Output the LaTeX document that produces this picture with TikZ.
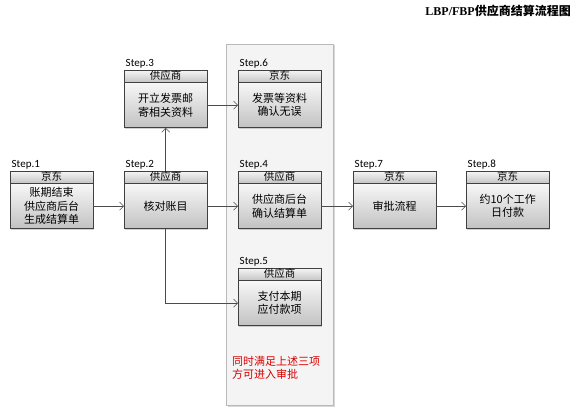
\documentclass[tikz,border=0pt]{standalone}
\usepackage{fontspec}
\setmainfont{Noto Sans CJK SC}
\newfontfamily\stepfont{Carlito}
\newfontfamily\titlefont{Liberation Serif}
\usetikzlibrary{positioning,shadows,arrows.meta}

\tikzset{
  head/.style={draw=black!75, top color=gray!8, bottom color=gray!45, anchor=north west,
    minimum width=83pt, minimum height=12pt, inner sep=0pt, text height=8pt, text depth=2pt,
    font=\fontsize{10.5}{11}\selectfont},
  body/.style={draw=black!75, top color=gray!6, bottom color=gray!48, align=center,
    minimum width=83pt, minimum height=45pt, inner sep=0pt,
    font=\fontsize{11}{13.4}\selectfont, drop shadow={shadow xshift=1.2pt, shadow yshift=-1.2pt, opacity=.35}},
  steplabel/.style={anchor=south west, inner sep=0pt, font=\stepfont\fontsize{11}{12}\selectfont},
  arr/.style={-{Straight Barb[length=4pt, width=8pt]}, draw=black!70, line width=0.6pt},
  panel/.style={draw=gray!55, fill=gray!9, drop shadow={shadow xshift=1.5pt, shadow yshift=-1.5pt, opacity=.3}}
}

\begin{document}
\begin{tikzpicture}[x=1pt, y=-1pt]
  \useasboundingbox (0,0) rectangle (578,414);
  \fill[white] (0,0) rectangle (578,414);

  \node[anchor=north east, inner sep=0pt, font=\fontsize{12}{13}\selectfont\bfseries] (title) at (571,5)
    {{\titlefont\bfseries LBP/FBP}供应商结算流程图};

  % the three checks box
  \draw[panel] (226,44) rectangle (333,405);

  \foreach \n/\x/\y/\who/\txt in {
      1/10/171/京东/{账期结束\\供应商后台\\生成结算单},
      2/124/171/供应商/{核对账目},
      3/124/70/供应商/{开立发票邮\\寄相关资料},
      6/238/70/京东/{发票等资料\\确认无误},
      4/238/171/供应商/{供应商后台\\确认结算单},
      5/238/268/供应商/{支付本期\\应付款项},
      7/353/171/京东/{审批流程},
      8/466/171/京东/{约10个工作\\日付款}}{
    \node[head] (h\n) at (\x,\y) {\who};
    \node[body, below=0pt of h\n] (s\n) {\txt};
    \node[steplabel] (l\n) at ([xshift=1.5pt, yshift=2pt]h\n.north west) {Step.\n};
  }

  \draw[arr] (s1) -- (s2);
  \draw[arr] (h2.north) -- (s3.south);
  \draw[arr] (s3) -- (s6);
  \draw[arr] (s2) -- (s4);
  \draw[arr] (s2.south) |- (s5.west);
  \draw[arr] (s4) -- (s7);
  \draw[arr] (s7) -- (s8);

  \node[anchor=north west, align=left, inner sep=0pt, text=red!85!black,
    font=\fontsize{11}{13.4}\selectfont] (note) at (232,356) {同时满足上述三项\\方可进入审批};
\end{tikzpicture}
\end{document}
